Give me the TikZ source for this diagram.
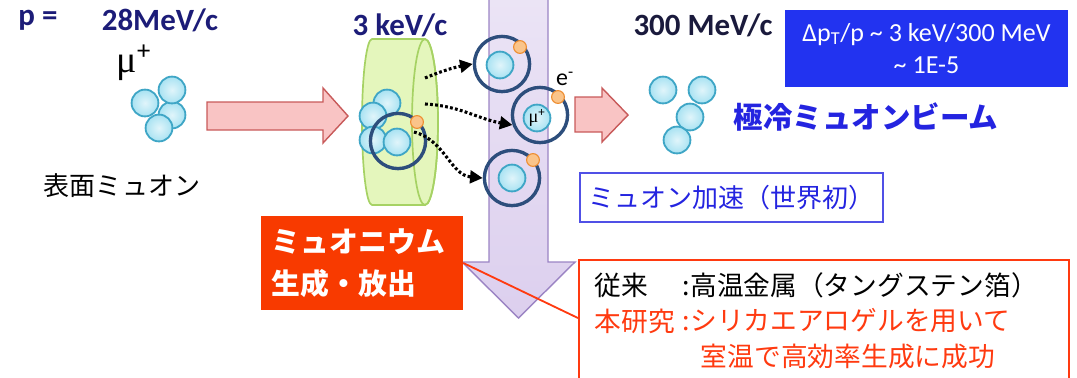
\documentclass[tikz,border=0pt]{standalone}
\usepackage{fontspec}
\setmainfont{Carlito}
\newfontfamily\jp{Noto Sans CJK JP}
\newfontfamily\greek{Liberation Serif}
\usetikzlibrary{arrows.meta}

\definecolor{navy}{HTML}{1C1C78}
\definecolor{darknavy}{HTML}{1A1A3C}
\definecolor{muonfill}{HTML}{A8E2F2}
\definecolor{muonedge}{HTML}{3FA6C6}
\definecolor{orbitblue}{HTML}{2D4E7C}
\definecolor{efill}{HTML}{FAC48A}
\definecolor{eedge}{HTML}{EE8E32}
\definecolor{pinkfill}{HTML}{F9C4C4}
\definecolor{pinkedge}{HTML}{C85A5A}
\definecolor{lavender}{HTML}{DCCFEE}
\definecolor{lavedge}{HTML}{9B84C4}
\definecolor{cylfill}{HTML}{E4F6BC}
\definecolor{cyledge}{HTML}{A6D264}
\definecolor{beamblue}{HTML}{2424E0}
\definecolor{boxblue}{HTML}{2233F0}
\definecolor{hotred}{HTML}{F83A00}
\definecolor{notered}{HTML}{FF3A10}

\begin{document}
\begin{tikzpicture}[
    x=0.025cm, y=-0.025cm, % one unit per pixel, y running down
    muon/.style={circle, draw=muonedge, line width=1.3pt,
        inner color=muonfill!35, outer color=muonfill,
        minimum size=0.67cm, inner sep=0pt},
    orbit/.style={circle, draw=orbitblue, line width=2.4pt,
        minimum size=1.38cm, inner sep=0pt},
    electron/.style={circle, draw=eedge, line width=0.8pt, fill=efill,
        minimum size=0.32cm, inner sep=0pt},
    momentum/.style={font=\bfseries\fontsize{22}{24}\selectfont},
    hop/.style={line width=2.2pt, dash pattern=on 2pt off 1.6pt,
        -{Triangle[length=9pt,width=9pt]}},
    fatarrow/.style={draw=pinkedge, line width=1pt, fill=pinkfill},
]
\useasboundingbox (0,0) rectangle (1077,377);

% momentum labels along the top
\node[momentum, text=navy] (plabel) at (38,20) {p =};
\node[momentum, text=navy] (pin) at (160,20) {28MeV/c};
\node[momentum, text=navy] (pmid) at (400,25) {3 keV/c};
\node[momentum, text=darknavy] (pout) at (703,25) {300 MeV/c};
\node[fill=boxblue, text=white, minimum width=7.075cm, minimum height=1.925cm,
    align=center, font=\fontsize{18.5}{23}\selectfont] (spread) at (926.5,48.5)
    {Δp\textsubscript{T}/p \textasciitilde\ 3 keV/300 MeV\\\textasciitilde\ 1E-5};

% surface muons
\node[font=\fontsize{27}{27}\selectfont] (mulabel) at (134,63) {{\greek μ}\textsuperscript{+}};
\node[muon] (m3) at (172,115) {};
\node[muon] (m2) at (172,90) {};
\node[muon] (m1) at (145,103) {};
\node[muon] (m4) at (159,128) {};
\node[font=\jp\fontsize{18.5}{20}\selectfont] (surface) at (122,186) {表面ミュオン};

% incoming beam arrow
\draw[fatarrow] (207,102) -- (323,102) -- (323,88) -- (348,116)
    -- (323,143) -- (323,130) -- (207,130) -- cycle;

% acceleration column, pointing down
\draw[draw=lavedge, line width=1pt, top color=lavender!55, bottom color=lavender]
    (489,-10) -- (548,-10) -- (548,262) -- (575,262) -- (518.5,318)
    -- (462,262) -- (489,262) -- cycle;

% aerogel target
\draw[draw=cyledge, line width=1.2pt, fill=cylfill]
    (372,39) -- (425,39) arc[start angle=-90, end angle=90, x radius=13, y radius=83]
    -- (372,205) arc[start angle=90, end angle=270, x radius=10, y radius=83] -- cycle;
\draw[draw=cyledge, line width=1.2pt] (425,122) ellipse [x radius=13, y radius=83];

\node[muon] (t1) at (387,103) {};
\node[muon] (t2) at (373,116) {};
\node[muon] (t3) at (373,140) {};
\node[muon] (t4) at (397,142) {};
\node[orbit] (ring0) at (398,141) {};
\node[electron] (e0) at (417,122) {};

% emitted muonium atoms
\node[orbit] (ringA) at (502,64) {};
\node[muon] (a1) at (500,65) {};
\node[electron] (eA) at (520,47) {};

\node[orbit] (ringB) at (540,115) {};
\node[muon, font=\fontsize{13}{13}\selectfont] (b1) at (537,118) {{\greek μ}\textsuperscript{+}};
\node[electron] (eB) at (558,97) {};
\node[font=\fontsize{17}{17}\selectfont] (elabel) at (565,79) {e\textsuperscript{-}};

\node[orbit] (ringC) at (512,178) {};
\node[muon] (c1) at (512,178) {};
\node[electron] (eC) at (533,160) {};

% emission paths
\coordinate (s1) at (425,78);
\coordinate (s2) at (425,104);
\coordinate (s3) at (414,132);
\draw[hop] (s1) to[bend left=6] (ringA.west);
\draw[hop] (s2) to[out=-3, in=170] (ringB.200);
\draw[hop] (s3) to[out=-15, in=175] (ringC.west);

% accelerated beam
\draw[fatarrow] (575,97) -- (602,97) -- (602,88) -- (628,115)
    -- (602,142) -- (602,132) -- (575,132) -- cycle;
\node[muon] (r1) at (663,90) {};
\node[muon] (r2) at (702,90) {};
\node[muon] (r3) at (690,117) {};
\node[muon] (r4) at (677,140) {};
\node[font=\jp\bfseries\fontsize{21}{21}\selectfont, text=beamblue] (beam) at (866,117)
    {極冷ミュオンビーム};
\node[draw=beamblue!80, line width=1pt, minimum width=7.575cm, minimum height=1.225cm,
    font=\jp\fontsize{18.5}{20}\selectfont, text=beamblue] (accel) at (731.5,197.5)
    {ミュオン加速（世界初）};

% muonium production box and its note
\node[fill=hotred, text=white, minimum width=5.05cm, minimum height=2.35cm,
    text width=4.5cm, align=left, font=\jp\bfseries\fontsize{20.5}{30}\selectfont]
    (mbox) at (362,263) {ミュオニウム\\生成・放出};
\node[draw=notered, line width=1.3pt, fill=white, anchor=north west,
    minimum width=12.25cm, minimum height=3.5cm] (note) at (578,259) {};
\draw[notered, line width=1.3pt] (mbox.east) -- ([yshift=-1.475cm]note.north west);
\node[anchor=west, font=\jp\fontsize{19}{20}\selectfont] (old) at (590,285)
    {従来};
\node[anchor=west, font=\jp\fontsize{19}{20}\selectfont] (oldtext) at (678,285)
    {:高温金属（タングステン箔）};
\node[anchor=west, font=\jp\fontsize{19}{20}\selectfont, text=notered] (new) at (590,321)
    {本研究};
\node[anchor=west, font=\jp\fontsize{19}{20}\selectfont, text=notered] (newtext) at (678,321)
    {:シリカエアロゲルを用いて};
\node[anchor=west, font=\jp\fontsize{19}{20}\selectfont, text=notered] (newtext2) at (696,356)
    {室温で高効率生成に成功};
\end{tikzpicture}
\end{document}
